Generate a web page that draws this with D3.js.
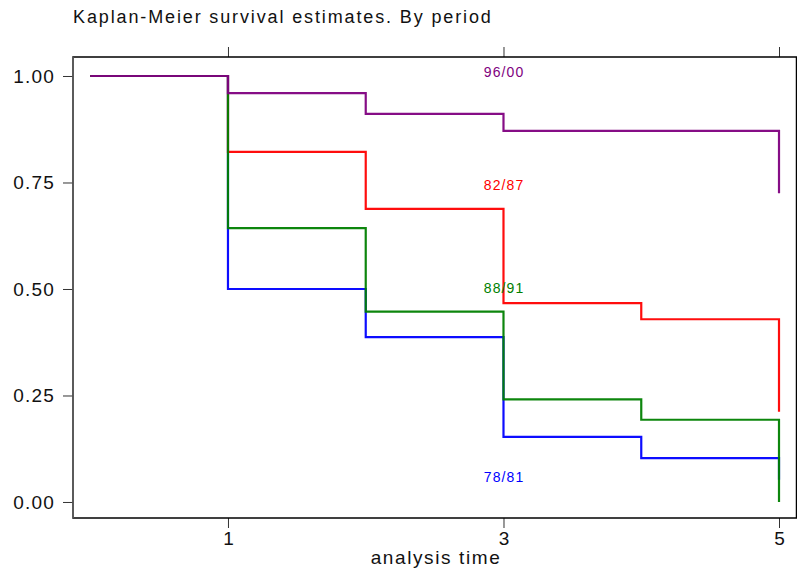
<!DOCTYPE html>
<html>
<head>
<meta charset="utf-8">
<script src="https://cdn.jsdelivr.net/npm/d3@7"></script>
<style>
  body { margin: 0; background: #fff; }
  text { font-family: "Liberation Sans", Arial, sans-serif; }
</style>
</head>
<body>
<svg id="mainsvg" width="797" height="571"></svg>
<script>
// data
const times = [0, 1, 2, 3, 4, 5];
const periods = ['78/81', '82/87', '88/91', '96/00'];
const surv7881 = [1, 0.500, 0.387, 0.153, 0.103, 0.052];
const surv8287 = [1, 0.822, 0.688, 0.467, 0.429, 0.212];
const surv8891 = [1, 0.643, 0.447, 0.241, 0.193, 0.000];
const surv9600 = [1, 0.960, 0.911, 0.871, 0.871, 0.725];
const labelY = [0.059, 0.744, 0.502, 1.009]; // where the period text sits, at time 3
const yTicks = [0, 0.25, 0.5, 0.75, 1];
const xTicks = [1, 3, 5];

const colors = { '78/81': '#0000ff', '82/87': '#ff0000', '88/91': '#008000', '96/00': '#800080' };
const series = [surv7881, surv8287, surv8891, surv9600];

const svg = d3.select('#mainsvg');
const margin = { top: 57, right: 0.5, bottom: 53, left: 73 };
const width = +svg.attr('width');
const height = +svg.attr('height');

const xScale = d3.scaleLinear().domain([-0.125, 5.127]).range([margin.left, width - margin.right]);
const yScale = d3.scaleLinear().domain([-0.0376, 1.0446]).range([height - margin.bottom, margin.top]);

// title
svg.append('text')
    .attr('x', 73).attr('y', 22.5)
    .attr('font-size', '18px')
    .attr('letter-spacing', '1.87px')
    .attr('fill', '#111')
    .text('Kaplan-Meier survival estimates. By period');

// axes
const yAxis = d3.axisLeft(yScale).tickValues(yTicks).tickFormat(d3.format('.2f')).tickSize(10).tickPadding(8);
const xAxis = d3.axisBottom(xScale).tickValues(xTicks).tickFormat(d3.format('d')).tickSize(10).tickPadding(4);

const yg = svg.append('g').attr('transform', `translate(${margin.left},0)`).call(yAxis);
yg.selectAll('text').attr('font-size', '19px').attr('letter-spacing', '1.2px').attr('fill', '#111');
yg.select('.domain').remove();

const xg = svg.append('g').attr('transform', `translate(0,${height - margin.bottom})`).call(xAxis);
xg.selectAll('text').attr('font-size', '19px').attr('fill', '#111');
xg.select('.domain').remove();

const xTop = svg.append('g').attr('transform', `translate(0,${margin.top})`)
    .call(d3.axisTop(xScale).tickValues(xTicks).tickSize(10).tickFormat(''));
xTop.select('.domain').remove();
const yRight = svg.append('g').attr('transform', `translate(${width - margin.right},0)`)
    .call(d3.axisRight(yScale).tickValues(yTicks).tickSize(10).tickFormat(''));
yRight.select('.domain').remove();

svg.selectAll('.tick line').attr('stroke', '#333');

// frame
svg.append('rect')
    .attr('x', margin.left).attr('y', margin.top)
    .attr('width', width - margin.left - margin.right)
    .attr('height', height - margin.top - margin.bottom)
    .attr('fill', 'none').attr('stroke', '#000').attr('stroke-width', 1.5);
svg.append('line')
    .attr('x1', margin.left).attr('x2', margin.left)
    .attr('y1', margin.top).attr('y2', height - margin.bottom)
    .attr('stroke', '#666').attr('stroke-width', 1.5);

// KM step curves
const line = d3.line()
    .x((d, i) => xScale(times[i]))
    .y(d => yScale(d))
    .curve(d3.curveStepAfter);

series.forEach((s, k) => {
    svg.append('path')
        .attr('d', line(s))
        .attr('fill', 'none')
        .attr('stroke', colors[periods[k]])
        .attr('stroke-width', 2.2)
        .attr('stroke-opacity', 0.95);
});

// period labels
periods.forEach((p, k) => {
    svg.append('text')
        .attr('x', xScale(3) + 0.6)
        .attr('y', yScale(labelY[k]))
        .attr('dy', '0.35em')
        .attr('text-anchor', 'middle')
        .attr('font-size', '14px')
        .attr('letter-spacing', '1.1px')
        .attr('fill', colors[p])
        .text(p);
});

// x axis title
svg.append('text')
    .attr('x', 436).attr('y', 564)
    .attr('text-anchor', 'middle')
    .attr('font-size', '19px')
    .attr('letter-spacing', '1.6px')
    .attr('fill', '#111')
    .text('analysis time');
</script>
</body>
</html>
